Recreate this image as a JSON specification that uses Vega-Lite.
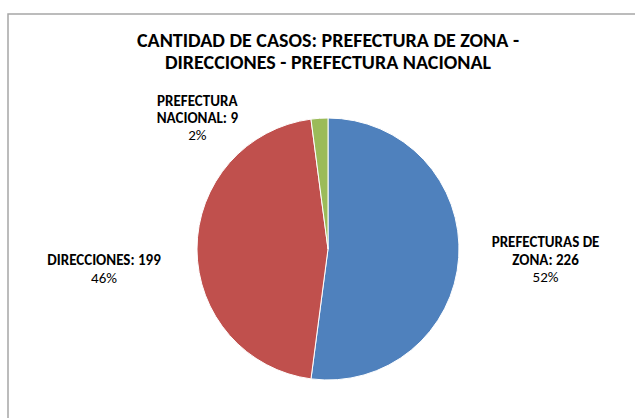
{
  "$schema": "https://vega.github.io/schema/vega-lite/v6.json",
  "autosize": "none",
  "width": 640,
  "height": 470,
  "padding": {"left": 8, "top": 14, "right": 0, "bottom": 0},
  "background": "white",
  "view": {"stroke": "#a6a6a6", "strokeWidth": 1.5, "fill": "white"},
  "config": {
    "view": {"stroke": "#a6a6a6", "strokeWidth": 1.5},
    "font": "Carlito, Lato, sans-serif"
  },
  "title": {
    "text": ["CANTIDAD DE CASOS: PREFECTURA DE ZONA -", "DIRECCIONES - PREFECTURA NACIONAL"],
    "font": "Carlito, Lato, sans-serif",
    "fontSize": 20,
    "fontWeight": "bold",
    "color": "#000000",
    "lineHeight": 22,
    "anchor": "middle",
    "frame": "group",
    "baseline": "top",
    "offset": -70
  },
  "data": {
    "values": [
      {"categoria": "PREFECTURAS DE ZONA", "casos": 226, "orden": 1, "nombre": ["PREFECTURAS DE", "ZONA: 226"], "pct": "52%"},
      {"categoria": "DIRECCIONES", "casos": 199, "orden": 2, "nombre": ["DIRECCIONES: 199"], "pct": "46%"},
      {"categoria": "PREFECTURA NACIONAL", "casos": 9, "orden": 3, "nombre": ["PREFECTURA", "NACIONAL: 9"], "pct": "2%"}
    ]
  },
  "encoding": {
    "theta": {"field": "casos", "type": "quantitative", "stack": true},
    "order": {"field": "orden", "type": "quantitative"}
  },
  "layer": [
    {
      "mark": {"type": "arc", "outerRadius": 131, "stroke": "#ffffff", "strokeWidth": 1},
      "encoding": {
        "color": {
          "field": "categoria",
          "type": "nominal",
          "scale": {"domain": ["PREFECTURAS DE ZONA", "DIRECCIONES", "PREFECTURA NACIONAL"], "range": ["#4F81BD", "#C0504D", "#9BBB59"]},
          "legend": null
        }
      }
    },
    {
      "mark": {"type": "text", "radius": 218, "dy": -21, "fontSize": 15, "fontWeight": "bold", "lineHeight": 18, "align": "center", "baseline": "middle", "color": "#000000"},
      "encoding": {"text": {"condition": {"test": "datum.categoria === 'PREFECTURAS DE ZONA'", "field": "nombre"}, "value": ""}}
    },
    {
      "mark": {"type": "text", "radius": 218, "dy": 14, "fontSize": 15, "align": "center", "baseline": "middle", "color": "#000000"},
      "encoding": {"text": {"condition": {"test": "datum.categoria === 'PREFECTURAS DE ZONA'", "field": "pct"}, "value": ""}}
    },
    {
      "mark": {"type": "text", "radius": 224, "dy": 11, "fontSize": 15, "fontWeight": "bold", "lineHeight": 18, "align": "center", "baseline": "middle", "color": "#000000"},
      "encoding": {"text": {"condition": {"test": "datum.categoria === 'DIRECCIONES'", "field": "nombre"}, "value": ""}}
    },
    {
      "mark": {"type": "text", "radius": 224, "dy": 29, "fontSize": 15, "align": "center", "baseline": "middle", "color": "#000000"},
      "encoding": {"text": {"condition": {"test": "datum.categoria === 'DIRECCIONES'", "field": "pct"}, "value": ""}}
    },
    {
      "mark": {"type": "text", "radius": 133, "dx": -122, "dy": -15, "fontSize": 15, "fontWeight": "bold", "lineHeight": 16.5, "align": "center", "baseline": "middle", "color": "#000000"},
      "encoding": {"text": {"condition": {"test": "datum.categoria === 'PREFECTURA NACIONAL'", "field": "nombre"}, "value": ""}}
    },
    {
      "mark": {"type": "text", "radius": 133, "dx": -122, "dy": 19, "fontSize": 15, "align": "center", "baseline": "middle", "color": "#000000"},
      "encoding": {"text": {"condition": {"test": "datum.categoria === 'PREFECTURA NACIONAL'", "field": "pct"}, "value": ""}}
    }
  ]
}
